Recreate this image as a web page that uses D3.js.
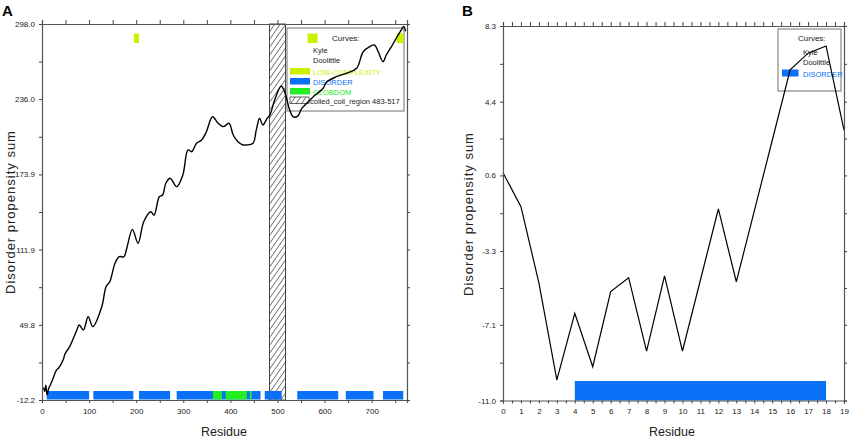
<!DOCTYPE html>
<html>
<head>
<meta charset="utf-8">
<script src="https://cdn.jsdelivr.net/npm/d3@7/dist/d3.min.js"></script>
<style>
body {margin:0; background:#fff;}
svg {display:block; font-family:"Liberation Sans", Arial, sans-serif;}
</style>
</head>
<body>
<svg id="chart" width="851" height="441"></svg>
<script>
// ---- panel A : full protein ----
var residueA = [3,6,8,11,14,21,31,35,45,49,59,74,79,88,98,108,127,136,144,155,164,174,180,192,204,216,231,238,249,256,263,272,286,299,310,318,328,339,349,362,374,385,397,406,416,427,434,448,455,462,469,478,484,494,508,515,526,533,543,551,558,576,597,604,625,646,668,682,696,706,714,724,731,742,752,763,768,772];
var scoreA = [-2,-5,0,-8,-3,3,12.6,14,21,26,32,45.6,49.7,45.6,56.5,48.3,64.8,81.3,85.4,100.6,106,106,113,128.6,117.1,134.9,143.1,140.4,155.5,156.9,166.6,170.7,163.8,173.4,194.1,192.6,199.6,202.3,209.1,221.5,216.1,213.3,216.1,206.4,200.9,198.2,198.2,199.6,210.6,220.2,214.7,220.2,223,235.3,246.9,242.2,227,221.5,222,228,231,238,245,250,254.5,257.3,261.5,275.1,279.3,280.7,275.1,267,272.4,279.3,286.2,293.1,296,292];
var disorderA = [[10,100],[109,194],[206,272],[286,464],[473,509],[542,629],[645,704],[724,767]];
var globdomA = [[363,382],[390,435],[441,445]];
var lowComplexityA = [[195,206],[564,585],[753,768]];
var coiledCoilA = [483,517];
var xTicksA = [0,50,100,150,200,250,300,350,400,450,500,550,600,650,700,750];
var xLabelsA = [0,100,200,300,400,500,600,700];
var yTicksA = [-12.2,49.8,111.9,173.9,236.0,298.0];

// ---- panel B : short peptide ----
var residueB = [0,1,2,3,4,5,6,7,8,9,10,11,12,13,14,15,16,17,18,19];
var scoreB = [0.74,-1.01,-4.94,-9.94,-6.51,-9.26,-5.39,-4.67,-8.45,-4.58,-8.45,-4.79,-1.13,-4.88,-1.24,2.4,6.04,6.9,7.27,2.94];
var disorderB = [[4,18]];
var xTicksB = [0,0.5,1,1.5,2,2.5,3,3.5,4,4.5,5,5.5,6,6.5,7,7.5,8,8.5,9,9.5,10,10.5,11,11.5,12,12.5,13,13.5,14,14.5,15,15.5,16,16.5,17,17.5,18,18.5,19];
var yTicksB = [-11.0,-7.1,-3.3,0.6,4.4,8.3];

var BLUE = "#0a70f5", GREEN = "#22ee22", LIME = "#ccf000";

var svg = d3.select("#chart");

var defs = svg.append("defs");
defs.append("pattern")
	.attr("id", "hatch")
	.attr("patternUnits", "userSpaceOnUse")
	.attr("width", 4.5).attr("height", 10)
	.attr("patternTransform", "rotate(35)")
	.append("line")
	.attr("x1", 0).attr("y1", 0).attr("x2", 0).attr("y2", 10)
	.attr("stroke", "#000").attr("stroke-width", 1);

// halfway ticks between labelled values
function withMinor(ticks) {
	var out = [];
	ticks.forEach(function(t, i) {
		out.push(t);
		if (i < ticks.length - 1) out.push((t + ticks[i+1]) / 2);
	});
	return out;
}

function styleAxis(g) {
	g.select(".domain").attr("stroke", "#555").attr("stroke-width", 1.2);
	g.selectAll(".tick line").attr("stroke", "#444");
	g.selectAll(".tick text").attr("font-size", "8px").attr("fill", "#222")
		.attr("font-family", "Liberation Sans, Arial, sans-serif");
}

// draws the frame with four axes
function drawFrame(xs, ys, xTicks, xLabelFn, yTicks) {
	var x0 = xs.range()[0], x1 = xs.range()[1];
	var y0 = ys.range()[0], y1 = ys.range()[1];
	var yAll = withMinor(yTicks);
	var labelled = yTicks.map(function(d) { return d.toFixed(1); });

	svg.append("g").attr("transform", "translate(0," + y0 + ")")
		.call(d3.axisBottom(xs).tickValues(xTicks).tickSize(3).tickPadding(5).tickFormat(xLabelFn))
		.call(styleAxis);
	svg.append("g").attr("transform", "translate(0," + y1 + ")")
		.call(d3.axisTop(xs).tickValues(xTicks).tickSize(4).tickFormat(""))
		.call(styleAxis);
	svg.append("g").attr("transform", "translate(" + x0 + ",0)")
		.call(d3.axisLeft(ys).tickValues(yAll).tickSize(3).tickPadding(4)
			.tickFormat(function(d) { var s = d.toFixed(1); return labelled.indexOf(s) >= 0 ? s : ""; }))
		.call(styleAxis);
	svg.append("g").attr("transform", "translate(" + x1 + ",0)")
		.call(d3.axisRight(ys).tickValues(yAll).tickSize(3).tickFormat(""))
		.call(styleAxis);
}

function axisTitles(cx, cy, lx) {
	svg.append("text")
		.attr("x", cx).attr("y", 436)
		.attr("text-anchor", "middle")
		.attr("font-size", "12.5px").attr("fill", "#222")
		.text("Residue");
	svg.append("text")
		.attr("transform", "translate(" + lx + "," + cy + ") rotate(-90)")
		.attr("text-anchor", "middle")
		.attr("font-size", "13px").attr("letter-spacing", "1px").attr("fill", "#222")
		.text("Disorder propensity sum");
}

// ================= PANEL A =================
var xA = d3.scaleLinear().domain([0, 775]).range([42, 407]);
var yA = d3.scaleLinear().domain([-12.2, 298.0]).range([400, 24]);

// legend box (behind the data)
var legA = svg.append("g");
legA.append("rect").attr("x", 287).attr("y", 28).attr("width", 117).attr("height", 83)
	.attr("fill", "#fff").attr("stroke", "#888").attr("stroke-width", 1.2);
legA.append("text").attr("x", 332).attr("y", 41).attr("font-size", "8px").attr("fill", "#222").text("Curves:");
legA.append("text").attr("x", 313).attr("y", 53).attr("font-size", "7.5px").attr("fill", "#222").text("Kyle");
legA.append("text").attr("x", 313).attr("y", 63).attr("font-size", "7.5px").attr("fill", "#222").text("Doolittle");
var legItems = [
	{label: "LOW-COMPLEXITY", color: LIME, y: 68},
	{label: "DISORDER", color: BLUE, y: 78},
	{label: "GLOBDOM", color: GREEN, y: 88}
];
legA.selectAll("rect.sw").data(legItems).enter().append("rect")
	.attr("class", "sw")
	.attr("x", 290).attr("y", function(d) { return d.y; })
	.attr("width", 20).attr("height", 6.5)
	.attr("fill", function(d) { return d.color; });
legA.selectAll("text.lb").data(legItems).enter().append("text")
	.attr("class", "lb")
	.attr("x", 313).attr("y", function(d) { return d.y + 6.5; })
	.attr("font-size", "7.5px")
	.attr("fill", function(d) { return d.color; })
	.text(function(d) { return d.label; });
legA.append("rect").attr("x", 290).attr("y", 97).attr("width", 19).attr("height", 6.5)
	.attr("fill", "url(#hatch)").attr("stroke", "#000").attr("stroke-width", 0.6);
legA.append("text").attr("x", 310).attr("y", 104).attr("font-size", "7.5px").attr("fill", "#222")
	.text("coiled_coil_region 483-517");

// coiled coil region
svg.append("rect")
	.attr("x", xA(coiledCoilA[0])).attr("y", yA(298.0))
	.attr("width", xA(coiledCoilA[1]) - xA(coiledCoilA[0]))
	.attr("height", yA(-12.2) - yA(298.0))
	.attr("fill", "url(#hatch)").attr("stroke", "#333").attr("stroke-width", 0.9);

// region bars
function regionBars(data, xs, color, yTop, h) {
	svg.append("g").selectAll("rect").data(data).enter().append("rect")
		.attr("x", function(d) { return xs(d[0]); })
		.attr("width", function(d) { return xs(d[1]) - xs(d[0]); })
		.attr("y", yTop).attr("height", h)
		.attr("fill", color);
}
regionBars(disorderA, xA, BLUE, 391, 8.5);
regionBars(globdomA, xA, GREEN, 391, 8.5);
regionBars(lowComplexityA, xA, LIME, 33.5, 9.5);

// propensity curve
var ptsA = residueA.map(function(r, i) { return [r, scoreA[i]]; });
svg.append("path")
	.datum(ptsA)
	.attr("fill", "none").attr("stroke", "#000").attr("stroke-width", 1.4)
	.attr("d", d3.line()
		.x(function(d) { return xA(d[0]); })
		.y(function(d) { return yA(d[1]); })
		.curve(d3.curveCatmullRom.alpha(0.5)));

drawFrame(xA, yA, xTicksA, function(d) { return xLabelsA.indexOf(d) >= 0 ? d : ""; }, yTicksA);
axisTitles(224, 212, 15);

svg.append("text").attr("x", 2).attr("y", 16)
	.attr("font-size", "15px").attr("font-weight", "bold").attr("fill", "#000").text("A");

// ================= PANEL B =================
var xB = d3.scaleLinear().domain([0, 19]).range([503, 844]);
var yB = d3.scaleLinear().domain([-11.0, 8.3]).range([400.5, 26]);

var legB = svg.append("g");
legB.append("rect").attr("x", 778).attr("y", 29).attr("width", 63).attr("height", 62)
	.attr("fill", "#fff").attr("stroke", "#888").attr("stroke-width", 1.2);
legB.append("text").attr("x", 798).attr("y", 41).attr("font-size", "8px").attr("fill", "#222").text("Curves:");
legB.append("text").attr("x", 803).attr("y", 55).attr("font-size", "7.5px").attr("fill", "#222").text("Kyle");
legB.append("text").attr("x", 803).attr("y", 65).attr("font-size", "7.5px").attr("fill", "#222").text("Doolittle");
legB.append("rect").attr("x", 782).attr("y", 69.5).attr("width", 16.5).attr("height", 7).attr("fill", BLUE);
legB.append("text").attr("x", 803).attr("y", 76.5).attr("font-size", "7.5px").attr("fill", BLUE).text("DISORDER");

regionBars(disorderB, xB, BLUE, yB(-11.0) - 19.5, 19.5);

var ptsB = residueB.map(function(r, i) { return [r, scoreB[i]]; });
svg.append("path")
	.datum(ptsB)
	.attr("fill", "none").attr("stroke", "#000").attr("stroke-width", 1.2)
	.attr("d", d3.line()
		.x(function(d) { return xB(d[0]); })
		.y(function(d) { return yB(d[1]); }));

drawFrame(xB, yB, xTicksB, function(d) { return Number.isInteger(d) ? d : ""; }, yTicksB);
axisTitles(672, 214, 473);

svg.append("text").attr("x", 462).attr("y", 16)
	.attr("font-size", "15px").attr("font-weight", "bold").attr("fill", "#000").text("B");
</script>
</body>
</html>
